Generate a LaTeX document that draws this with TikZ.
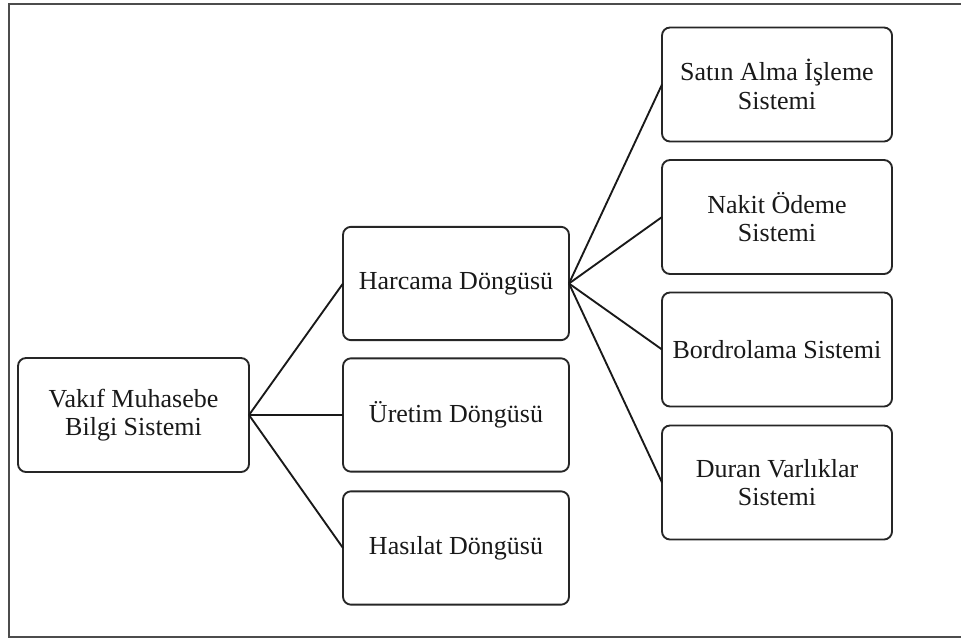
\documentclass[tikz,border=0pt]{standalone}
\usepackage{fontspec}
\setmainfont{Liberation Serif}
\begin{document}
\begin{tikzpicture}[x=0.75pt,y=-0.75pt,
  box/.style={draw=black!85, line width=1.4pt, rounded corners=6pt, fill=white,
    inner sep=0pt, outer sep=0pt, align=center,
    font=\fontsize{19.5}{21.5}\selectfont, text=black!90},
  rootbox/.style={box, minimum width=173.25pt, minimum height=85.5pt},
  midbox/.style={box, minimum width=169.5pt, minimum height=85pt},
  leafbox/.style={box, minimum width=172.5pt, minimum height=85.5pt},
  link/.style={draw=black!90, line width=1.4pt},
  frame/.style={draw=black!70, line width=1.6pt}]
  \useasboundingbox (0,0) rectangle (961,639);

  % open frame around the chart
  \coordinate (ftr) at (961,4);
  \coordinate (ftl) at (9,4);
  \coordinate (fbl) at (9,637);
  \coordinate (fbr) at (961,637);
  \draw[frame] (ftr) -- (ftl) -- (fbl) -- (fbr);

  % root
  \node[rootbox] (root) at (133.5,415) {Vakıf Muhasebe\\Bilgi Sistemi};

  % cycles
  \node[midbox] (harcama) at (456,283.5) {Harcama Döngüsü};
  \node[midbox] (uretim)  at (456,415)   {Üretim Döngüsü};
  \node[midbox] (hasilat) at (456,548)   {Hasılat Döngüsü};

  % subsystems of the expenditure cycle
  \node[leafbox] (satin)  at (777,84.5)  {Satın Alma İşleme\\Sistemi};
  \node[leafbox] (nakit)  at (777,217)   {Nakit Ödeme\\Sistemi};
  \node[leafbox] (bordro) at (777,349.5) {Bordrolama Sistemi};
  \node[leafbox] (duran)  at (777,482.5) {Duran Varlıklar\\Sistemi};

  % connectors
  \foreach \t in {harcama,uretim,hasilat}
    \draw[link] (root.east) -- (\t.west);
  \foreach \t in {satin,nakit,bordro,duran}
    \draw[link] (harcama.east) -- (\t.west);
\end{tikzpicture}
\end{document}
